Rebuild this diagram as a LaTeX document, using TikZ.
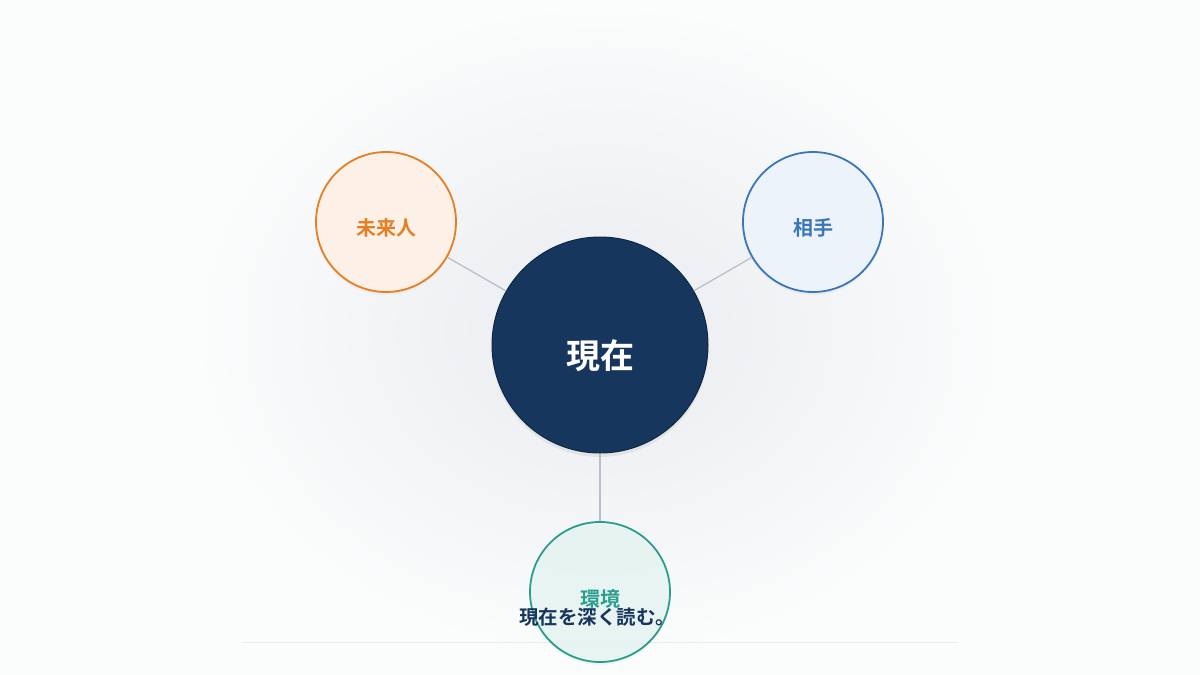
\documentclass[tikz,border=0pt]{standalone}
\usepackage{fontspec}
\newfontfamily\jp{Noto Sans CJK JP}[BoldFont={Noto Sans CJK JP Bold}]
\usetikzlibrary{shadows}
\definecolor{navy}{HTML}{17365D}
\definecolor{navyline}{HTML}{0F2746}
\definecolor{orangeline}{HTML}{E67E22}
\definecolor{orangefill}{HTML}{FDF1E7}
\definecolor{blueline}{HTML}{3B76B9}
\definecolor{bluefill}{HTML}{EDF3FB}
\definecolor{tealline}{HTML}{2A9D8F}
\definecolor{tealfill}{HTML}{E7F5F2}
\definecolor{linkgray}{HTML}{B8C0CB}
\definecolor{pagebg}{HTML}{FBFCFC}
\definecolor{glow}{HTML}{E9EBEF}
\tikzset{
  hub/.style={circle, draw=navyline, fill=navy, line width=1pt, minimum size=216pt,
    drop shadow={opacity=0.12, shadow xshift=0pt, shadow yshift=-4pt}},
  side/.style={circle, line width=1.8pt, minimum size=140pt,
    drop shadow={opacity=0.07, shadow xshift=0pt, shadow yshift=-3pt}},
  sidetext/.style={font=\jp\bfseries\fontsize{20}{20}\selectfont},
  link/.style={draw=linkgray, line width=1.3pt}
}
\begin{document}
\begin{tikzpicture}[x=1pt, y=-1pt]
    \useasboundingbox (0,0) rectangle (1200,675);
    \fill[pagebg] (0,0) rectangle (1200,675);
    \shade[inner color=glow, outer color=pagebg] (600,330) ellipse (410 and 330);
    % rule under the tagline
    \draw[black!8, line width=0.8pt] (242,642) -- (958,642);
    \node[hub] (now) at (600, 345) {};
    \node[side, draw=orangeline, fill=orangefill] (future) at (386, 222) {};
    \node[side, draw=blueline, fill=bluefill] (other) at (813, 222) {};
    \node[side, draw=tealline, fill=tealfill, fill opacity=0.85] (env) at (600, 592) {};
    \draw [link] (now) to (future);
    \draw [link] (now) to (other);
    \draw [link] (now) to (env);
    \node[text=white, font=\jp\bfseries\fontsize{34}{34}\selectfont] (nowl) at (600, 356) {現在};
    \node[sidetext, text=orangeline] (futurel) at (386, 228) {未来人};
    \node[sidetext, text=blueline] (otherl) at (813, 228) {相手};
    \node[sidetext, text=tealline] (envl) at (600, 599) {環境};
    \node[text=navy, font=\jp\bfseries\fontsize{19.5}{19.5}\selectfont] (tag) at (597, 617) {現在を深く読む。};
  \end{tikzpicture}
\end{document}
